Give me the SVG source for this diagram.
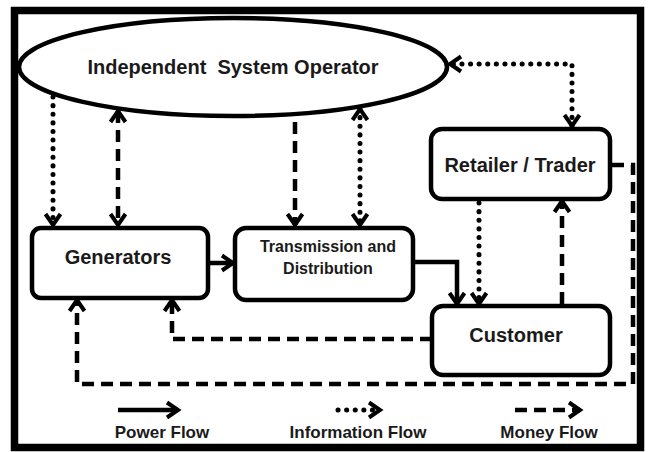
<svg xmlns="http://www.w3.org/2000/svg" width="648" height="452" viewBox="0 0 648 452">
<defs>
<marker id="ah" markerUnits="userSpaceOnUse" markerWidth="20" markerHeight="20" refX="15" refY="9" orient="auto-start-reverse" overflow="visible">
<path d="M4,1.5 L15,9 L4,16.5" fill="none" stroke="#000" stroke-width="4" stroke-dasharray="none" stroke-linecap="butt" stroke-linejoin="miter"/>
</marker>
<style>
.box{fill:#fff;stroke:#000;stroke-width:4.5}
.lbl{font-family:"Liberation Sans",Arial,sans-serif;font-weight:bold;fill:#1a1a1a;text-anchor:middle}
.c{fill:none;stroke:#000;stroke-width:4.5}
.power{}
.money{stroke-dasharray:12 7}
.info{stroke-dasharray:0.1 8.5;stroke-linecap:round;stroke-width:5}
.end{marker-end:url(#ah)}
.both{marker-start:url(#ah);marker-end:url(#ah)}
</style>
</defs>
<rect x="0" y="0" width="648" height="452" fill="#fff"/>
<rect x="14.5" y="10.5" width="626" height="437" fill="#fff" stroke="#000" stroke-width="7.5"/>

<g id="iso">
<ellipse cx="233" cy="67" rx="214" ry="49" fill="#fff" stroke="#000" stroke-width="4.5"/>
<text class="lbl" x="233" y="74" font-size="20" xml:space="preserve">Independent  System Operator</text>
</g>
<g id="generators">
<rect class="box" x="32" y="228" width="176" height="70" rx="9"/>
<text class="lbl" x="118" y="264" font-size="20">Generators</text>
</g>
<g id="transmission">
<rect class="box" x="235" y="228" width="178" height="72" rx="11"/>
<text class="lbl" x="328" y="252" font-size="16">Transmission and</text>
<text class="lbl" x="328" y="274" font-size="16">Distribution</text>
</g>
<g id="retailer">
<rect class="box" x="431" y="129" width="179" height="70" rx="11"/>
<text class="lbl" x="520" y="172" font-size="20">Retailer / Trader</text>
</g>
<g id="customer">
<rect class="box" x="432" y="306" width="178" height="69" rx="11"/>
<text class="lbl" x="516" y="342" font-size="20">Customer</text>
</g>

<g id="connectors">
<path class="c info end" d="M53,97 L53,225"/>
<path class="c money both" d="M118,111 L118,225"/>
<path class="c money end" d="M295,122 L295,225"/>
<path class="c info both" d="M360,109 L360,225"/>
<path class="c info both" d="M572,126 L572,64 L450,64"/>
<path class="c power end" d="M208,263 L233,263"/>
<path class="c power end" d="M413,262 L457,262 L457,304"/>
<path class="c info end" d="M479,203 L479,304"/>
<path class="c money end" d="M562,304 L562,201"/>
<path class="c money end" d="M432,339 L172,339 L172,300"/>
<path class="c money end" d="M612,165 L633,165 L633,384 L77,384 L77,300"/>
</g>

<g id="legend">
<path class="c power end" d="M118,410 L178,410"/>
<text class="lbl" x="162" y="438" font-size="17">Power Flow</text>
<path class="c info end" d="M338,410 L380,410"/>
<text class="lbl" x="358" y="438" font-size="17">Information Flow</text>
<path class="c money end" d="M515,410 L580,410"/>
<text class="lbl" x="549" y="438" font-size="17">Money Flow</text>
</g>
</svg>
